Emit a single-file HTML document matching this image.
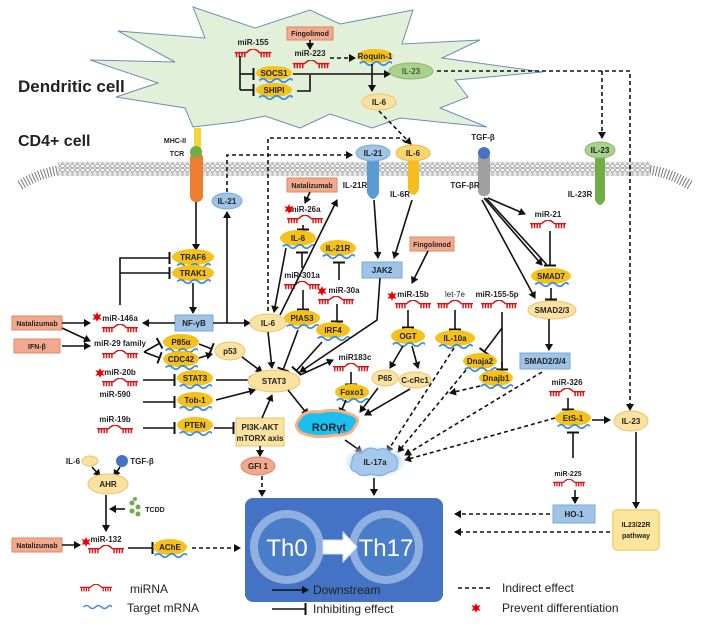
<!DOCTYPE html>
<html><head><meta charset="utf-8"><style>
body{margin:0;background:#fff}
svg{display:block;font-family:"Liberation Sans",sans-serif}
.t{font-size:8px;font-weight:bold;text-anchor:middle;fill:#222}
.ln{stroke:#111;stroke-width:1.6;fill:none}
.d{stroke:#111;stroke-width:1.6;fill:none;stroke-dasharray:4,3}
</style></head><body>
<svg width="708" height="624" viewBox="0 0 708 624">
<defs>
<marker id="a" markerWidth="8" markerHeight="8" refX="6" refY="4" orient="auto" markerUnits="userSpaceOnUse"><path d="M0,0 L7,4 L0,8z" fill="#111"/></marker>
<marker id="b" markerWidth="4" markerHeight="12" refX="2" refY="6" orient="auto" markerUnits="userSpaceOnUse"><rect x="0.5" y="0" width="2" height="12" fill="#111"/></marker>
<symbol id="mir" viewBox="0 0 40 12"><path d="M0,4 H13 Q20,-4 27,4 H40 M2,4v5M5,4v5M8,4v5M11,4v5M29,4v5M32,4v5M35,4v5M38,4v5" stroke="#d11" stroke-width="1.6" fill="none"/></symbol>
<symbol id="wav" viewBox="0 0 40 8"><path d="M2,4 q4,-4 8,0 t8,0 t8,0 t8,0 t6,0" stroke="#3a8ee8" stroke-width="2" fill="none"/></symbol>
<symbol id="star" viewBox="0 0 12 12"><path d="M6,0 L7.5,3.5 L11.5,2.5 L9,6 L11.5,9.5 L7.5,8.5 L6,12 L4.5,8.5 L0.5,9.5 L3,6 L0.5,2.5 L4.5,3.5z" fill="#e00"/></symbol>
<pattern id="mem" width="5" height="14" patternUnits="userSpaceOnUse"><rect width="5" height="14" fill="#e6e6e6"/><circle cx="2.5" cy="2" r="1.8" fill="#fff" stroke="#888" stroke-width=".6"/><circle cx="2.5" cy="12" r="1.8" fill="#fff" stroke="#888" stroke-width=".6"/><path d="M2,4v6M3,4v6" stroke="#999" stroke-width=".5"/></pattern>
<radialGradient id="glow"><stop offset="0.6" stop-color="#9cc8f0"/><stop offset="1" stop-color="#fff" stop-opacity="0"/></radialGradient>
</defs>

<!-- dendritic cell -->
<polygon points="193,7 255,28 310,10 340,24 413,10 402,44 480,40 442,58 543,72 455,80 468,97 440,108 487,127 400,118 372,128 330,114 300,128 265,116 235,122 193,127 185,108 116,97 158,83 90,60 175,62 118,31 205,38" fill="#e2efd9" stroke="#6b8fb3" stroke-width="1"/>
<text x="18" y="92" style="font-size:17px;font-weight:bold" fill="#222">Dendritic cell</text>
<text x="18" y="146" style="font-size:16px;font-weight:bold" fill="#222">CD4+ cell</text>

<!-- membrane -->
<path d="M60,170 Q40,173 20,185" stroke="#777" stroke-width="10" fill="none" stroke-dasharray="1,2"/>
<path d="M650,170 Q670,173 690,185" stroke="#777" stroke-width="10" fill="none" stroke-dasharray="1,2"/>
<rect x="58" y="162" width="592" height="14" fill="url(#mem)"/>

<!-- DC internals -->
<rect x="287" y="27" width="46" height="13" fill="#f4a98d" stroke="#d98a6c"/><text class="t" x="310" y="36" style="font-size:7px">Fingolimod</text>
<line class="ln" x1="310" y1="40" x2="310" y2="49" marker-end="url(#a)"/>
<text class="t" x="253" y="45">miR-155</text><use href="#mir" x="234" y="49" width="38" height="11"/>
<text class="t" x="310" y="56">miR-223</text><use href="#mir" x="292" y="60" width="38" height="11"/>
<line class="d" x1="330" y1="58" x2="355" y2="58" marker-end="url(#a)"/>
<ellipse cx="375" cy="56" rx="18" ry="7" fill="#f5c21b"/><use href="#wav" x="358" y="60" width="34" height="7"/><text class="t" x="375" y="59">Roquin-1</text>
<path class="ln" d="M240,56 V90"/>
<line class="ln" x1="240" y1="74" x2="254" y2="74" marker-end="url(#b)"/>
<line class="ln" x1="240" y1="90" x2="254" y2="90" marker-end="url(#b)"/>
<ellipse cx="274" cy="73" rx="18" ry="7" fill="#f5c21b"/><use href="#wav" x="257" y="77" width="36" height="7"/><text class="t" x="274" y="76">SOCS1</text>
<ellipse cx="274" cy="90" rx="18" ry="7" fill="#f5c21b"/><use href="#wav" x="257" y="94" width="36" height="7"/><text class="t" x="274" y="93">SHIPI</text>
<line class="ln" x1="293" y1="74" x2="390" y2="74" marker-end="url(#a)"/>
<path class="ln" d="M297,91 H310 V75"/>
<line class="ln" x1="372" y1="64" x2="372" y2="91" marker-end="url(#a)"/>
<ellipse cx="411" cy="71" rx="22" ry="8" fill="#a9d18e" stroke="#8ab870"/><text x="411" y="74" class="t" style="font-weight:normal" fill="#555">IL-23</text>
<ellipse cx="379" cy="102" rx="17" ry="8" fill="#fbe2a0" stroke="#eac46a"/><text class="t" x="379" y="105">IL-6</text>
<path class="d" d="M437,71 H630 V410" marker-end="url(#a)"/>
<line class="d" x1="602" y1="71" x2="602" y2="138" marker-end="url(#a)"/>
<line class="d" x1="379" y1="111" x2="411" y2="144" marker-end="url(#a)"/>

<!-- receptors -->
<rect x="194" y="128" width="7" height="22" fill="#f7d43a"/>
<rect x="190" y="152" width="13" height="50" rx="6" fill="#ed7d31"/>
<circle cx="196" cy="152" r="6" fill="#70ad47"/>
<text class="t" x="175" y="143" style="font-size:7px">MHC-II</text><text class="t" x="177" y="156" style="font-size:7px">TCR</text>
<path d="M367,153 h12 v40 q-6,12 -12,0z" fill="#5b9bd5"/>
<ellipse cx="373" cy="153" rx="17" ry="8" fill="#9dc3e6" stroke="#7aa9d6"/><text class="t" x="373" y="156">IL-21</text>
<text class="t" x="355" y="188">IL-21R</text>
<path d="M408,153 h11 v36 q-5,12 -11,0z" fill="#f5be1b"/>
<ellipse cx="413" cy="153" rx="17" ry="8" fill="#fbd56b" stroke="#e8b84a"/><text class="t" x="413" y="156">IL-6</text>
<text class="t" x="400" y="197">IL-6R</text>
<rect x="478" y="152" width="12" height="44" rx="5" fill="#a0a0a0"/><circle cx="484" cy="153" r="6" fill="#4472c4"/>
<text class="t" x="483" y="140">TGF-β</text><text class="t" x="465" y="188">TGF-βR</text>
<path d="M595,158 h10 v42 q-5,10 -10,0z" fill="#70ad47"/>
<ellipse cx="600" cy="150" rx="15" ry="8" fill="#a9d18e" stroke="#8ab870"/><text class="t" x="600" y="153">IL-23</text>
<text class="t" x="580" y="197">IL-23R</text>

<!-- dashed top loops -->
<path class="d" d="M268,318 V138 H400 L408,144"/>
<path class="d" d="M227,192 V155 H352" marker-end="url(#a)"/>
<ellipse cx="227" cy="201" rx="15" ry="8" fill="#9dc3e6" stroke="#7aa9d6"/><text class="t" x="227" y="204">IL-21</text>

<!-- left column -->
<line class="ln" x1="196" y1="202" x2="196" y2="250" marker-end="url(#a)"/>
<ellipse cx="193" cy="257" rx="21" ry="8" fill="#f5c21b"/><use href="#wav" x="175" y="262" width="36" height="7"/><text class="t" x="193" y="260">TRAF6</text>
<ellipse cx="193" cy="273" rx="21" ry="8" fill="#f5c21b"/><use href="#wav" x="175" y="278" width="36" height="7"/><text class="t" x="193" y="276">TRAK1</text>
<path class="ln" d="M120,305 V258 H170" marker-end="url(#b)"/>
<line class="ln" x1="120" y1="273" x2="170" y2="273" marker-end="url(#b)"/>
<line class="ln" x1="193" y1="283" x2="193" y2="313" marker-end="url(#a)"/>
<rect x="175" y="315" width="38" height="16" fill="#9dc3e6" stroke="#7aa9d6"/><text class="t" x="194" y="326">NF-γB</text>
<line class="ln" x1="175" y1="323" x2="143" y2="323" marker-end="url(#a)"/>
<path class="ln" d="M213,323 H250" marker-end="url(#a)"/>
<line class="ln" x1="227" y1="323" x2="227" y2="212" marker-end="url(#a)"/>

<rect x="12" y="316" width="50" height="14" fill="#f4a98d" stroke="#d98a6c"/><text class="t" x="37" y="326" style="font-size:7px">Natalizumab</text>
<rect x="14" y="339" width="46" height="14" fill="#f4a98d" stroke="#d98a6c"/><text class="t" x="37" y="349" style="font-size:7px">IFN-β</text>
<line class="ln" x1="62" y1="323" x2="90" y2="323" marker-end="url(#a)"/>
<line class="ln" x1="62" y1="328" x2="90" y2="341" marker-end="url(#a)"/>
<line class="ln" x1="62" y1="346" x2="90" y2="346" marker-end="url(#a)"/>
<use href="#star" x="92" y="312" width="10" height="10"/>
<text class="t" x="120" y="321">miR-146a</text><use href="#mir" x="102" y="324" width="36" height="11"/>
<text class="t" x="120" y="346">miR-29 family</text><use href="#mir" x="102" y="350" width="36" height="11"/>
<path class="ln" d="M144,352 L160,343" marker-end="url(#b)"/><path class="ln" d="M144,352 L160,358" marker-end="url(#b)"/>
<ellipse cx="181" cy="342" rx="18" ry="8" fill="#f5c21b"/><use href="#wav" x="164" y="347" width="34" height="7"/><text class="t" x="181" y="345">P85α</text>
<ellipse cx="181" cy="359" rx="18" ry="8" fill="#f5c21b"/><use href="#wav" x="164" y="364" width="34" height="7"/><text class="t" x="181" y="362">CDC42</text>
<line class="ln" x1="199" y1="344" x2="212" y2="349" marker-end="url(#b)"/>
<line class="ln" x1="199" y1="358" x2="212" y2="354" marker-end="url(#a)"/>
<ellipse cx="230" cy="351" rx="15" ry="9" fill="#fbe2a0" stroke="#eac46a"/><text class="t" x="230" y="354">p53</text>
<line class="ln" x1="242" y1="357" x2="262" y2="372" marker-end="url(#a)"/>

<use href="#star" x="95" y="368" width="10" height="10"/>
<text class="t" x="120" y="375">miR-20b</text><use href="#mir" x="102" y="378" width="36" height="11"/>
<line class="ln" x1="143" y1="380" x2="175" y2="380" marker-end="url(#b)"/>
<ellipse cx="195" cy="378" rx="18" ry="8" fill="#f5c21b"/><use href="#wav" x="178" y="383" width="34" height="7"/><text class="t" x="195" y="381">STAT3</text>
<line class="ln" x1="216" y1="380" x2="255" y2="380" marker-end="url(#a)"/>
<text class="t" x="115" y="397">miR-590</text>
<line class="ln" x1="143" y1="402" x2="175" y2="402" marker-end="url(#b)"/>
<ellipse cx="195" cy="400" rx="18" ry="8" fill="#f5c21b"/><use href="#wav" x="178" y="405" width="34" height="7"/><text class="t" x="195" y="403">Tob-1</text>
<line class="ln" x1="216" y1="400" x2="255" y2="390" marker-end="url(#a)"/>
<text class="t" x="115" y="422">miR-19b</text><use href="#mir" x="97" y="425" width="36" height="11"/>
<line class="ln" x1="143" y1="428" x2="175" y2="428" marker-end="url(#b)"/>
<ellipse cx="195" cy="425" rx="18" ry="8" fill="#f5c21b"/><use href="#wav" x="178" y="430" width="34" height="7"/><text class="t" x="195" y="428">PTEN</text>
<line class="ln" x1="214" y1="428" x2="234" y2="428" marker-end="url(#b)"/>
<rect x="236" y="418" width="48" height="28" fill="#fbe2a0" stroke="#eac46a"/><text class="t" x="260" y="430">PI3K-AKT</text><text class="t" x="260" y="441">mTORX axis</text>
<line class="ln" x1="262" y1="418" x2="272" y2="395" marker-end="url(#a)"/>
<line class="ln" x1="260" y1="446" x2="260" y2="456" marker-end="url(#a)"/>
<ellipse cx="258" cy="466" rx="17" ry="9" fill="#f4a98d" stroke="#d98a6c"/><text class="t" x="258" y="469">GFI 1</text>
<line class="d" x1="262" y1="476" x2="262" y2="496" marker-end="url(#a)"/>

<ellipse cx="90" cy="461" rx="8" ry="5" fill="#fbe2a0" stroke="#eac46a"/><text class="t" x="73" y="464">IL-6</text>
<circle cx="122" cy="461" r="6" fill="#4472c4"/><text class="t" x="142" y="464">TGF-β</text>
<line class="ln" x1="92" y1="467" x2="100" y2="476" marker-end="url(#a)"/><line class="ln" x1="120" y1="467" x2="114" y2="476" marker-end="url(#a)"/>
<ellipse cx="108" cy="484" rx="20" ry="10" fill="#fbe2a0" stroke="#eac46a"/><text class="t" x="108" y="487">AHR</text>
<line class="ln" x1="106" y1="495" x2="106" y2="531" marker-end="url(#a)"/>
<line class="ln" x1="125" y1="509" x2="110" y2="509" marker-end="url(#a)"/>
<g fill="#70ad47"><circle cx="132" cy="503" r="2.5"/><circle cx="138" cy="507" r="2.5"/><circle cx="132" cy="511" r="2.5"/><circle cx="138" cy="514" r="2.5"/><circle cx="135" cy="499" r="2"/></g>
<text class="t" x="155" y="512" style="font-size:7px">TCDD</text>
<rect x="12" y="538" width="50" height="14" fill="#f4a98d" stroke="#d98a6c"/><text class="t" x="37" y="548" style="font-size:7px">Natalizumab</text>
<line class="ln" x1="62" y1="545" x2="80" y2="545" marker-end="url(#a)"/>
<use href="#star" x="81" y="537" width="10" height="10"/>
<text class="t" x="106" y="542">miR-132</text><use href="#mir" x="88" y="545" width="36" height="11"/>
<line class="ln" x1="128" y1="548" x2="153" y2="548" marker-end="url(#b)"/>
<ellipse cx="170" cy="547" rx="17" ry="8" fill="#f5c21b"/><use href="#wav" x="153" y="552" width="34" height="7"/><text class="t" x="170" y="550">AChE</text>
<line class="d" x1="192" y1="548" x2="240" y2="548" marker-end="url(#a)"/>

<!-- middle -->
<text class="t" x="305" y="212">miR-26a</text><use href="#star" x="284" y="204" width="10" height="10"/><use href="#mir" x="287" y="215" width="36" height="11"/>
<rect x="287" y="178" width="50" height="14" fill="#f4a98d" stroke="#d98a6c"/><text class="t" x="312" y="188" style="font-size:7px">Natalizumab</text>
<line class="ln" x1="310" y1="192" x2="305" y2="203" marker-end="url(#a)"/>
<line class="ln" x1="303" y1="225" x2="303" y2="230" marker-end="url(#b)"/>
<ellipse cx="298" cy="238" rx="18" ry="8" fill="#f5c21b"/><use href="#wav" x="281" y="243" width="34" height="7"/><text class="t" x="298" y="241">IL-6</text>
<line class="ln" x1="286" y1="248" x2="274" y2="312" marker-end="url(#a)"/>
<line class="ln" x1="302" y1="268" x2="302" y2="252" marker-end="url(#b)"/>
<text class="t" x="302" y="278">miR-301a</text><use href="#mir" x="284" y="281" width="36" height="11"/>
<line class="ln" x1="303" y1="290" x2="303" y2="310" marker-end="url(#b)"/>
<ellipse cx="302" cy="318" rx="18" ry="8" fill="#f5c21b"/><use href="#wav" x="285" y="323" width="34" height="7"/><text class="t" x="302" y="321">PIAS3</text>
<line class="ln" x1="298" y1="330" x2="283" y2="370" marker-end="url(#b)"/>
<ellipse cx="268" cy="323" rx="18" ry="9" fill="#fbe2a0" stroke="#eac46a"/><text class="t" x="268" y="326">IL-6</text>
<line class="ln" x1="268" y1="332" x2="272" y2="368" marker-end="url(#a)"/>
<line class="ln" x1="280" y1="315" x2="337" y2="200" marker-end="url(#a)"/>
<ellipse cx="338" cy="248" rx="18" ry="8" fill="#f5c21b"/><use href="#wav" x="321" y="253" width="34" height="7"/><text class="t" x="338" y="251">IL-21R</text>
<line class="ln" x1="339" y1="280" x2="339" y2="262" marker-end="url(#b)"/>
<use href="#star" x="317" y="286" width="10" height="10"/><text class="t" x="344" y="293">miR-30a</text><use href="#mir" x="318" y="296" width="36" height="11"/>
<line class="ln" x1="337" y1="304" x2="337" y2="322" marker-end="url(#b)"/>
<ellipse cx="333" cy="330" rx="17" ry="8" fill="#f5c21b"/><use href="#wav" x="316" y="335" width="34" height="7"/><text class="t" x="333" y="333">IRF4</text>
<line class="ln" x1="322" y1="342" x2="296" y2="371" marker-end="url(#b)"/>
<ellipse cx="274" cy="381" rx="26" ry="11" fill="#fbe2a0" stroke="#eac46a"/><text class="t" x="274" y="384">STAT3</text>
<line class="ln" x1="374" y1="200" x2="378" y2="258" marker-end="url(#a)"/>
<line class="ln" x1="412" y1="200" x2="394" y2="258" marker-end="url(#a)"/>
<rect x="362" y="262" width="40" height="16" fill="#9dc3e6" stroke="#7aa9d6"/><text class="t" x="382" y="273">JAK2</text>
<path class="ln" d="M380,278 L377,320 L300,372" marker-end="url(#a)"/>
<line class="ln" x1="300" y1="375" x2="333" y2="360" marker-end="url(#a)"/>
<text class="t" x="355" y="360">miR183c</text><use href="#mir" x="333" y="363" width="36" height="11"/>
<line class="ln" x1="351" y1="372" x2="351" y2="385" marker-end="url(#b)"/>
<ellipse cx="352" cy="392" rx="17" ry="8" fill="#f5c21b"/><use href="#wav" x="335" y="397" width="34" height="7"/><text class="t" x="352" y="395">Foxo1</text>
<line class="ln" x1="346" y1="400" x2="340" y2="414" marker-end="url(#a)"/>
<line class="ln" x1="288" y1="390" x2="308" y2="415" marker-end="url(#a)"/>
<path d="M300,418 q5,-8 20,-6 q15,-4 30,2 q12,4 5,12 q-3,10 -20,9 q-20,4 -33,-2 q-10,-6 -2,-15z" fill="#1cc0ef" stroke="#f4b183" stroke-width="3"/>
<text x="329" y="431" style="font-size:11px;font-weight:bold;text-anchor:middle" fill="#123">RORγt</text>

<rect x="410" y="237" width="44" height="14" fill="#f4a98d" stroke="#d98a6c"/><text class="t" x="432" y="247" style="font-size:7px">Fingolimod</text>
<line class="ln" x1="428" y1="251" x2="412" y2="283" marker-end="url(#a)"/>
<use href="#star" x="387" y="291" width="10" height="10"/><text class="t" x="413" y="297">miR-15b</text><use href="#mir" x="395" y="300" width="36" height="11"/>
<text class="t" x="455" y="297" style="font-weight:normal">let-7e</text><use href="#mir" x="437" y="300" width="36" height="11"/>
<text class="t" x="497" y="297">miR-155-5p</text><use href="#mir" x="481" y="300" width="36" height="11"/>
<line class="ln" x1="408" y1="310" x2="408" y2="328" marker-end="url(#b)"/>
<ellipse cx="408" cy="336" rx="17" ry="8" fill="#f5c21b"/><use href="#wav" x="391" y="341" width="34" height="7"/><text class="t" x="408" y="339">OGT</text>
<line class="ln" x1="403" y1="346" x2="390" y2="368" marker-end="url(#a)"/><line class="ln" x1="412" y1="346" x2="418" y2="368" marker-end="url(#a)"/>
<ellipse cx="385" cy="378" rx="13" ry="8" fill="#fbe2a0" stroke="#eac46a"/><text class="t" x="385" y="381">P65</text>
<ellipse cx="415" cy="380" rx="16" ry="8" fill="#fbe2a0" stroke="#eac46a"/><text class="t" x="415" y="383">C-cRc1</text>
<line class="ln" x1="378" y1="388" x2="360" y2="412" marker-end="url(#a)"/>
<line class="ln" x1="410" y1="389" x2="365" y2="415" marker-end="url(#a)"/>
<line class="ln" x1="455" y1="310" x2="455" y2="330" marker-end="url(#b)"/>
<ellipse cx="455" cy="338" rx="20" ry="8" fill="#f5c21b"/><use href="#wav" x="437" y="343" width="36" height="7"/><text class="t" x="455" y="341">IL-10a</text>
<path class="ln" d="M502,312 V369"/><line class="ln" x1="502" y1="362" x2="502" y2="370" marker-end="url(#b)"/>
<line class="ln" x1="502" y1="328" x2="484" y2="352" marker-end="url(#b)"/>
<ellipse cx="480" cy="361" rx="17" ry="8" fill="#f5c21b"/><use href="#wav" x="463" y="366" width="34" height="7"/><text class="t" x="480" y="364">Dnaja2</text>
<ellipse cx="496" cy="378" rx="17" ry="8" fill="#f5c21b"/><use href="#wav" x="479" y="383" width="34" height="7"/><text class="t" x="496" y="381">Dnajb1</text>
<line class="d" x1="454" y1="348" x2="387" y2="452" marker-end="url(#a)"/>
<line class="d" x1="466" y1="370" x2="398" y2="452" marker-end="url(#a)"/>
<line class="d" x1="480" y1="386" x2="450" y2="393" marker-end="url(#a)"/>
<line class="d" x1="542" y1="372" x2="405" y2="455" marker-end="url(#a)"/>
<line class="d" x1="555" y1="418" x2="405" y2="460" marker-end="url(#a)"/>
<line class="ln" x1="345" y1="440" x2="362" y2="452" marker-end="url(#a)"/>
<ellipse cx="375" cy="462" rx="34" ry="18" fill="url(#glow)"/>
<path d="M352,462 q0,-10 10,-9 q6,-8 15,-3 q10,-4 14,4 q8,2 6,9 q2,8 -8,9 q-8,6 -18,2 q-10,4 -15,-2 q-8,-2 -4,-10z" fill="#a5c8ec" stroke="#7aa9d6"/>
<text class="t" x="375" y="465" style="font-size:8px">IL-17a</text>
<line class="ln" x1="374" y1="478" x2="374" y2="495" marker-end="url(#a)"/>

<!-- right -->
<line class="ln" x1="488" y1="198" x2="525" y2="214" marker-end="url(#a)"/>
<line class="ln" x1="484" y1="198" x2="542" y2="265" marker-end="url(#a)"/>
<line class="ln" x1="482" y1="200" x2="535" y2="298" marker-end="url(#a)"/>
<line class="ln" x1="486" y1="198" x2="548" y2="266" />
<text class="t" x="548" y="217">miR-21</text><use href="#mir" x="530" y="220" width="36" height="11"/>
<line class="ln" x1="550" y1="231" x2="550" y2="266" marker-end="url(#b)"/>
<ellipse cx="551" cy="276" rx="20" ry="8" fill="#f5c21b"/><use href="#wav" x="533" y="281" width="36" height="7"/><text class="t" x="551" y="279">SMAD7</text>
<line class="ln" x1="551" y1="288" x2="551" y2="300" marker-end="url(#b)"/>
<ellipse cx="552" cy="310" rx="24" ry="9" fill="#fbe2a0" stroke="#eac46a"/><text class="t" x="552" y="313">SMAD2/3</text>
<line class="ln" x1="549" y1="319" x2="549" y2="350" marker-end="url(#a)"/>
<rect x="520" y="353" width="50" height="16" fill="#9dc3e6" stroke="#7aa9d6"/><text class="t" x="545" y="364">SMAD2/3/4</text>
<text class="t" x="567" y="385">miR-326</text><use href="#mir" x="549" y="388" width="36" height="11"/>
<line class="ln" x1="568" y1="398" x2="568" y2="410" marker-end="url(#b)"/>
<ellipse cx="573" cy="418" rx="18" ry="8" fill="#f5c21b"/><use href="#wav" x="556" y="423" width="34" height="7"/><text class="t" x="573" y="421">EtS-1</text>
<line class="ln" x1="592" y1="420" x2="610" y2="420" marker-end="url(#a)"/>
<ellipse cx="631" cy="421" rx="17" ry="10" fill="#fbe2a0" stroke="#eac46a"/><text class="t" x="631" y="424">IL-23</text>
<line class="ln" x1="573" y1="458" x2="573" y2="432" marker-end="url(#b)"/>
<text class="t" x="568" y="476" style="font-size:7px">miR-225</text><use href="#mir" x="553" y="479" width="32" height="10"/>
<line class="ln" x1="575" y1="490" x2="575" y2="503" marker-end="url(#a)"/>
<rect x="553" y="505" width="42" height="18" fill="#9dc3e6" stroke="#7aa9d6"/><text class="t" x="574" y="517">HO-1</text>
<line class="d" x1="550" y1="514" x2="455" y2="514" marker-end="url(#a)"/>
<line class="ln" x1="636" y1="432" x2="636" y2="508" marker-end="url(#a)"/>
<rect x="613" y="510" width="46" height="40" rx="4" fill="#fde59b" stroke="#f0d78c" stroke-width="2"/><text class="t" x="636" y="527" style="font-size:7px">IL23/22R</text><text class="t" x="636" y="538" style="font-size:7px">pathway</text>
<line class="d" x1="610" y1="532" x2="455" y2="532" marker-end="url(#a)"/>

<!-- Th box -->
<rect x="245" y="498" width="198" height="104" rx="8" fill="#4472c4"/>
<circle cx="287" cy="547" r="37" fill="#8fb0e0"/><circle cx="287" cy="547" r="29" fill="#4a7dc9"/>
<circle cx="386" cy="547" r="37" fill="#8fb0e0"/><circle cx="386" cy="547" r="29" fill="#4a7dc9"/>
<text x="287" y="556" style="font-size:24px;text-anchor:middle" fill="#fff">Th0</text>
<text x="386" y="556" style="font-size:24px;text-anchor:middle" fill="#fff">Th17</text>
<path d="M323,540 h20 v-8 l14,15 l-14,15 v-8 h-20z" fill="#fff" stroke="#cfe0f5"/>

<!-- legend -->
<use href="#mir" x="80" y="584" width="32" height="10"/><text x="130" y="593" style="font-size:12px" fill="#222">miRNA</text>
<use href="#wav" x="82" y="603" width="30" height="8"/><text x="127" y="612" style="font-size:12px" fill="#222">Target mRNA</text>
<line class="ln" x1="272" y1="590" x2="308" y2="590" marker-end="url(#a)"/><text x="313" y="594" style="font-size:12px" fill="#222">Downstream</text>
<line class="ln" x1="272" y1="609" x2="306" y2="609" marker-end="url(#b)"/><text x="313" y="613" style="font-size:12px" fill="#222">Inhibiting effect</text>
<line class="d" x1="458" y1="588" x2="492" y2="588"/><text x="502" y="592" style="font-size:12px" fill="#222">Indirect effect</text>
<use href="#star" x="471" y="603" width="10" height="10"/><text x="502" y="612" style="font-size:12px" fill="#222">Prevent differentiation</text>
</svg>
</body></html>
